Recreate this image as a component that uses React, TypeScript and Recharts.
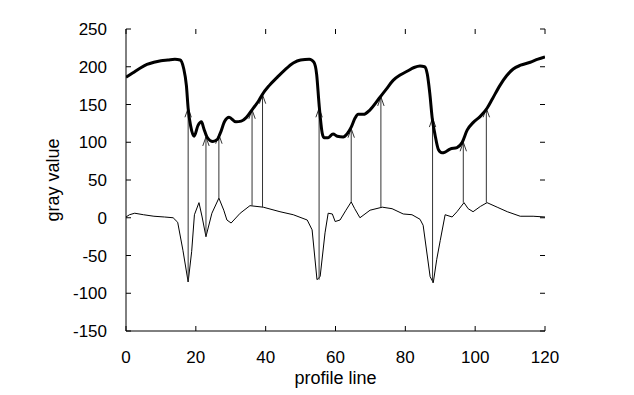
import { LineChart, Line, XAxis, YAxis, ReferenceLine } from "recharts";

// gray value along the profile line (thick curve)
const profileX = [
  0, 2, 4, 6, 8, 10, 12, 14, 15.5, 16.5, 17.3, 17.8, 18.5, 19.5, 20.6, 21.6, 22.3, 23.2, 24.9, 26.2, 27,
  28.3, 29.5, 31.5, 33, 34.5, 36.1, 38, 39, 41, 43.3, 45.5, 47.9, 50, 52.5, 53.8, 54.6, 55.3, 56.2, 56.7,
  57.9, 59.3, 60.5, 62.2, 63.3, 64.5, 65.6, 66.5, 68, 69.9, 72.8, 74.5, 76.5, 78.5, 80.5, 82.5, 84.2, 85.5,
  86.3, 87, 87.7, 88.5, 89.5, 90.5, 91.4, 92.8, 94.8, 96.3, 97.7, 99.4, 101.4, 103.4, 105, 107.2, 109,
  110.9, 113, 115.8, 118, 120,
];
const profileGray = [
  186, 192, 198, 203, 206, 208, 209, 210, 209, 198, 175, 145, 122, 108, 122, 127, 118, 107, 101, 104, 112,
  128, 133, 127, 128, 133, 143, 155, 163, 175, 186, 196, 205, 209, 210, 206, 190, 150, 112, 106,
  106, 111, 108, 107, 111, 120, 132, 137, 137, 143, 160, 170, 182, 189, 194, 199, 201, 200,
  190, 165, 132, 110, 90, 86, 87, 91, 93, 100, 116, 126, 134, 145, 158, 176, 188,
  197, 202, 206, 210, 213,
];

// derivative of the profile (thin curve)
const derivX = [
  0, 1, 2.5, 5, 8, 11, 13.5, 14.8, 16.3, 17.8, 18.8, 19.6, 20.9, 21.8, 22.9, 24.6, 26.6, 28, 28.9, 30.1,
  32.7, 35.5, 39.3, 44.1, 47.9, 51.9, 53.3, 54.7, 55.6, 57, 57.9, 59.1, 59.9, 61.3, 63, 64.5, 65.5, 67,
  69.9, 73.4, 76.2, 79.4, 81.9, 84.2, 85.1, 87.1, 88, 89, 90, 91.4, 93.4, 94.8, 96.8, 98, 99.4, 101.5,
  103.4, 106.3, 109.2, 112.9, 116.6, 120,
];
const derivGray = [
  1, 4, 6, 4, 2, 1, 0, -6, -43, -85, -45, 4, 20, 1, -25, 6, 26, 10, -3, -7,
  6, 16, 14, 8, 4, -3, -16, -82, -78, -20, 6, 5, -5, -3, 10, 21, 12, 0,
  10, 14, 12, 5, 4, -2, -10, -78, -86, -55, -30, 4, 1, 8, 20, 12, 8, 15,
  20, 14, 8, 2, 2, 1,
];

// arrows from derivative extrema up to the profile
const arrowX = [17.8, 22.9, 26.6, 36.1, 39.1, 55.3, 64.5, 73, 87.8, 96.6, 103.2];
const arrowFrom = [-85, -25, 26, 16, 14, -82, 21, 14, -86, 20, 20];
const arrowTo = [145, 107, 110, 143, 163, 145, 118, 160, 132, 100, 145];

const xTicks = [0, 20, 40, 60, 80, 100, 120];
const yTicks = [-150, -100, -50, 0, 50, 100, 150, 200, 250];

const profileData = profileX.map((x, i) => ({ x, gray: profileGray[i] }));
const derivData = derivX.map((x, i) => ({ x, deriv: derivGray[i] }));

const FONT = "'Liberation Sans', Arial, sans-serif";
const TICK_PX = 5;

const Arrow = (props: any) => {
  const { x1, y1, x2, y2 } = props;
  if (x1 == null || y1 == null) return null;
  const head = 9;
  const spread = 3.2;
  return (
    <g>
      <line x1={x1} y1={y1} x2={x2} y2={y2} stroke="#333" strokeWidth={1} />
      <path
        d={`M${x2 - spread},${y2 + head} L${x2},${y2} L${x2 + spread},${y2 + head}`}
        fill="none"
        stroke="#333"
        strokeWidth={1}
      />
    </g>
  );
};

// inward tick mark: the segment gives the position on the axis, the mark is drawn a few px inward
const InnerTick = (props: any) => {
  const { x1, y1, x2, y2 } = props;
  if (x1 == null || y1 == null) return null;
  const dx = Math.sign(x2 - x1) * TICK_PX;
  const dy = Math.sign(y2 - y1) * TICK_PX;
  return <line x1={x1} y1={y1} x2={x1 + dx} y2={y1 + dy} stroke="#000" strokeWidth={1} />;
};

export default function App() {
  const tickStyle = { fontSize: 17, fontFamily: FONT, fill: "#000" };
  return (
    <LineChart width={620} height={384} margin={{ top: 21, right: 83, bottom: 0, left: 0 }}>
      <XAxis
        dataKey="x"
        type="number"
        domain={[0, 120]}
        ticks={xTicks}
        height={61}
        tickLine={false}
        tickMargin={14}
        tick={tickStyle}
        axisLine={{ stroke: "#000" }}
        allowDataOverflow
        label={{ value: "profile line", position: "insideBottom", offset: 8, style: { fontSize: 18, fontFamily: FONT, fill: "#000" } }}
      />
      <XAxis
        xAxisId="top"
        orientation="top"
        dataKey="x"
        type="number"
        domain={[0, 120]}
        ticks={xTicks}
        height={0}
        tick={false}
        tickLine={false}
        axisLine={{ stroke: "#000" }}
      />
      <YAxis
        type="number"
        domain={[-150, 250]}
        ticks={yTicks}
        width={118}
        tickLine={false}
        tickMargin={13}
        tick={tickStyle}
        axisLine={{ stroke: "#000" }}
        allowDataOverflow
        label={{
          value: "gray value",
          angle: -90,
          position: "insideLeft",
          offset: 45,
          style: { fontSize: 18, fontFamily: FONT, fill: "#000", textAnchor: "middle" },
        }}
      />
      <YAxis
        yAxisId="right"
        orientation="right"
        type="number"
        domain={[-150, 250]}
        ticks={yTicks}
        width={0}
        tick={false}
        tickLine={false}
        axisLine={{ stroke: "#000" }}
      />
      {xTicks.map((t) => (
        <ReferenceLine key={`xb${t}`} segment={[{ x: t, y: -150 }, { x: t, y: 250 }]} shape={InnerTick} ifOverflow="visible" />
      ))}
      {xTicks.map((t) => (
        <ReferenceLine key={`xt${t}`} segment={[{ x: t, y: 250 }, { x: t, y: -150 }]} shape={InnerTick} ifOverflow="visible" />
      ))}
      {yTicks.map((t) => (
        <ReferenceLine key={`yl${t}`} segment={[{ x: 0, y: t }, { x: 120, y: t }]} shape={InnerTick} ifOverflow="visible" />
      ))}
      {yTicks.map((t) => (
        <ReferenceLine key={`yr${t}`} segment={[{ x: 120, y: t }, { x: 0, y: t }]} shape={InnerTick} ifOverflow="visible" />
      ))}
      <Line
        data={derivData}
        dataKey="deriv"
        type="linear"
        stroke="#000"
        strokeWidth={1}
        dot={false}
        isAnimationActive={false}
      />
      {arrowX.map((x, i) => (
        <ReferenceLine
          key={i}
          segment={[
            { x, y: arrowFrom[i] },
            { x, y: arrowTo[i] },
          ]}
          shape={Arrow}
        />
      ))}
      <Line
        data={profileData}
        dataKey="gray"
        type="monotone"
        stroke="#000"
        strokeWidth={3}
        dot={false}
        isAnimationActive={false}
      />
    </LineChart>
  );
}
